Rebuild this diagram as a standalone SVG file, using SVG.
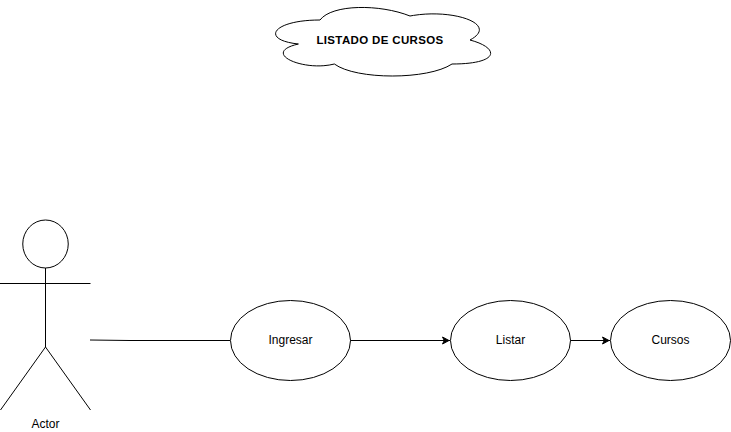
<svg xmlns="http://www.w3.org/2000/svg" width="731" height="432" viewBox="0 0 731 432">
<style>
.s{fill:#fff;stroke:#000;stroke-width:1}
.l{fill:none;stroke:#000;stroke-width:1}
text{font-family:"Liberation Sans",Arial,sans-serif;font-size:12px;fill:#000;text-anchor:middle}
</style>
<defs><marker id="a" markerUnits="userSpaceOnUse" markerWidth="11" markerHeight="10" refX="9" refY="5" orient="auto"><path d="M1.500 1.500L8 5L1.500 8.500L3.250 5Z" fill="#000" stroke="#000"/></marker></defs>
<rect width="731" height="432" fill="#fff"/>
<g id="connectors">
<path class="l" d="M90 340L130 340.500L230 340.500"/>
<path class="l" d="M350 340.500L450 340.500" marker-end="url(#a)"/>
<path class="l" d="M570 340.500L610 340.500" marker-end="url(#a)"/>
</g>
<g id="title"><path class="s" d="M320 20C272 20 260 40 298.400 44C260 52.800 303.200 72 334.400 64C356 80 428 80 452 64C500 64 500 48 470 40C500 24 452 8 410 16C380 4 332 4 320 20Z"/><text x="380" y="43.500" font-weight="bold" style="font-size:11.500px;letter-spacing:.35px">LISTADO DE CURSOS</text></g>
<g id="actor"><ellipse class="s" cx="45.500" cy="244" rx="22.750" ry="24"/><path class="l" d="M45.500 268V347M0 283.500H90.500M45.500 347L0.500 410M45.500 347L90.500 410"/><text x="45.500" y="428">Actor</text></g>
<g id="ingresar"><ellipse class="s" cx="290.500" cy="340.500" rx="60" ry="40"/><text x="290.500" y="344">Ingresar</text></g>
<g id="listar"><ellipse class="s" cx="510.500" cy="340.500" rx="60" ry="40"/><text x="510.500" y="344">Listar</text></g>
<g id="cursos"><ellipse class="s" cx="670.500" cy="340.500" rx="60" ry="40"/><text x="670.500" y="344">Cursos</text></g>
</svg>
